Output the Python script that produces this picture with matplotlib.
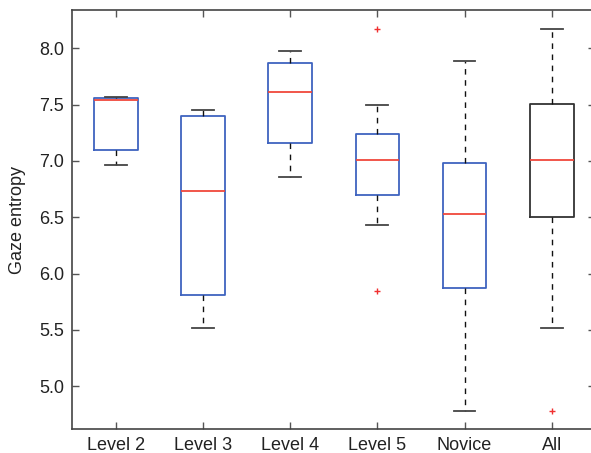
import matplotlib
matplotlib.use("Agg")
import matplotlib.pyplot as plt

categories = ["Level 2", "Level 3", "Level 4", "Level 5", "Novice", "All"]
whislo = [6.96, 5.52, 6.86, 6.43, 4.78, 5.52]
q1 = [7.10, 5.81, 7.16, 6.70, 5.87, 6.50]
med = [7.54, 6.73, 7.61, 7.01, 6.53, 7.01]
q3 = [7.56, 7.40, 7.87, 7.24, 6.98, 7.51]
whishi = [7.57, 7.45, 7.98, 7.50, 7.89, 8.17]
fliers = [[], [], [], [8.17, 5.85], [], [4.78]]
yticks = [5.0, 5.5, 6.0, 6.5, 7.0, 7.5, 8.0]

plt.rcParams['font.family'] = ['Liberation Sans', 'DejaVu Sans']

W, H = 591, 453
fig = plt.figure(figsize=(W / 100, H / 100), dpi=100)
L, R, T, B = 72.3, 595.3, 10, 429.3
ax = fig.add_axes([L / W, 1 - B / H, (R - L) / W, (B - T) / H])

stats = []
for i, c in enumerate(categories):
    stats.append(dict(label=c, whislo=whislo[i], q1=q1[i], med=med[i], q3=q3[i],
                      whishi=whishi[i], fliers=fliers[i]))

box_blue = "#3f63bf"
bp = ax.bxp(stats, positions=range(1, len(categories) + 1), widths=0.5,
            capwidths=0.25, patch_artist=False,
            boxprops=dict(color=box_blue, linewidth=1.3),
            medianprops=dict(color="#f0483c", linewidth=1.3),
            whiskerprops=dict(color="#111111", linewidth=1.0, linestyle=(0, (4, 4))),
            capprops=dict(color="#444444", linewidth=1.3),
            flierprops=dict(marker="+", markeredgecolor="#f03030", markersize=4,
                            markeredgewidth=1.0, linestyle="none"))
bp['boxes'][-1].set_color("#333333")

ax.set_xlim(0.5, 6.5)
ax.set_ylim(4.618, 8.34)
ax.set_yticks(yticks)
ax.set_yticklabels([f"{v:.1f}" for v in yticks])
ax.set_xticks(range(1, len(categories) + 1))
ax.set_xticklabels(categories)
ax.tick_params(direction="in", length=5, width=1, colors="#555555",
               labelcolor="#222222", labelsize=13, top=True, right=True)
ax.tick_params(axis="y", pad=6)
ax.tick_params(axis="x", pad=5.5)
for s in ax.spines.values():
    s.set_color("#444444")
    s.set_linewidth(1.2)
ax.set_ylabel("Gaze entropy", fontsize=13, color="#222222")
ax.yaxis.set_label_coords((26.5 - L) / (R - L), 0.5)

fig.savefig("out.png", dpi=100)
